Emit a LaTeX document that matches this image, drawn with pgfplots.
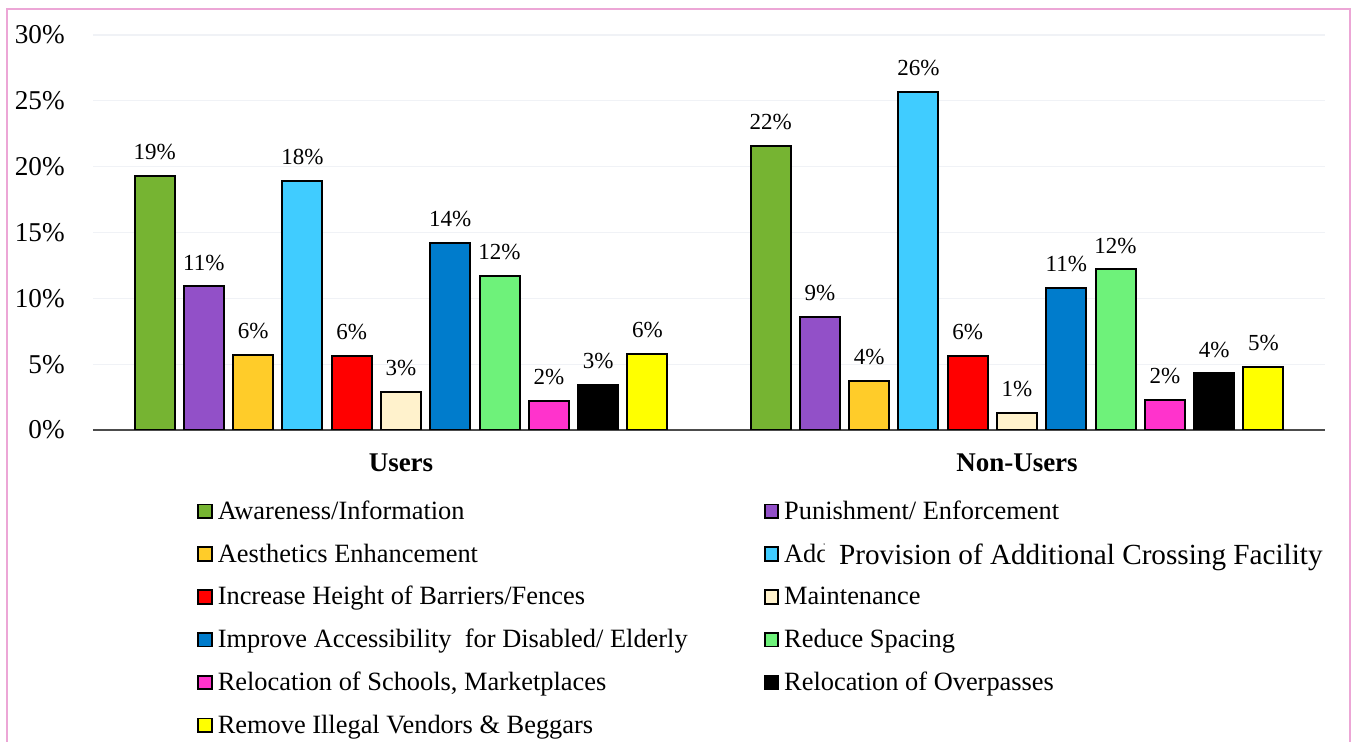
\documentclass[border=0pt]{standalone}
\usepackage{fontspec}
\setmainfont{Liberation Serif}
\usepackage{pgfplots}
\pgfplotsset{compat=1.18}
\definecolor{c1}{RGB}{118,180,50}
\definecolor{c2}{RGB}{146,80,200}
\definecolor{c3}{RGB}{255,204,41}
\definecolor{c4}{RGB}{64,204,255}
\definecolor{c5}{RGB}{255,0,0}
\definecolor{c6}{RGB}{255,242,204}
\definecolor{c7}{RGB}{0,124,204}
\definecolor{c8}{RGB}{110,242,122}
\definecolor{c9}{RGB}{255,51,204}
\definecolor{c10}{RGB}{0,0,0}
\definecolor{c11}{RGB}{255,255,0}
\definecolor{gridc}{RGB}{240,242,246}
\definecolor{framec}{RGB}{236,166,214}
\newcommand{\Lc}[1]{\makebox[270.5pt][l]{#1}}
\begin{document}
\begin{tikzpicture}
\path[use as bounding box] (-46.5pt,-156pt) rectangle (629.5pt,215pt);
\begin{axis}[
  at={(0pt,0pt)}, anchor=south west,
  scale only axis, width=616pt, height=197.5pt,
  xmin=-0.5, xmax=1.5, ymin=0, ymax=30,
  axis x line=bottom, axis y line=left,
  x axis line style={-, draw=black!70, line width=0.8pt},
  y axis line style={draw=none},
  xtick={0,1}, xticklabels={Users,Non-Users},
  xtick style={draw=none}, ytick style={draw=none},
  xticklabel style={font=\fontsize{13.5}{16}\selectfont\bfseries, yshift=-4pt},
  ytick={0,5,10,15,20,25,30},
  yticklabels={0\%,5\%,10\%,15\%,20\%,25\%,30\%},
  yticklabel style={font=\fontsize{13.6}{16}\selectfont, xshift=-8.5pt},
  ymajorgrids, grid style={draw=gridc, line width=0.6pt},
  /pgf/number format/assume math mode=true,
  ybar, bar width=0.065,
  point meta=explicit symbolic,
  nodes near coords={\pgfplotspointmeta\%},
  every node near coord/.append style={font=\fontsize{11.5}{13}\selectfont, anchor=south, inner sep=0pt, yshift=7.5pt, text=black},
  legend columns=2, legend cell align=left,
  legend image code/.code={\draw[#1, draw=black, line width=0.9pt] (0pt,-2.4pt) rectangle (6.8pt,4.4pt);},
  legend style={draw=none, fill=none, at={(0.0844,-0.1797)}, anchor=north west,
    inner sep=0pt, column sep=2.5pt, row sep=9.4pt,
    nodes={inner sep=0pt, text height=9pt, text depth=3pt, font=\fontsize{13.2}{15}\selectfont}},
  every axis plot/.append style={draw=black, line width=1pt},
]
\addplot[fill=c1, bar shift=-0.40] coordinates {(0,19.3) [19] (1,21.6) [22]};
\addplot[fill=c2, bar shift=-0.32] coordinates {(0,10.9) [11] (1,8.6) [9]};
\addplot[fill=c3, bar shift=-0.24] coordinates {(0,5.7) [6] (1,3.7) [4]};
\addplot[fill=c4, bar shift=-0.16] coordinates {(0,18.9) [18] (1,25.7) [26]};
\addplot[fill=c5, bar shift=-0.08] coordinates {(0,5.6) [6] (1,5.6) [6]};
\addplot[fill=c6, bar shift=0] coordinates {(0,2.9) [3] (1,1.3) [1]};
\addplot[fill=c7, bar shift=0.08] coordinates {(0,14.2) [14] (1,10.8) [11]};
\addplot[fill=c8, bar shift=0.16] coordinates {(0,11.7) [12] (1,12.2) [12]};
\addplot[fill=c9, bar shift=0.24] coordinates {(0,2.2) [2] (1,2.3) [2]};
\addplot[fill=c10, bar shift=0.32] coordinates {(0,3.4) [3] (1,4.3) [4]};
\addplot[fill=c11, bar shift=0.40] coordinates {(0,5.8) [6] (1,4.8) [5]};
\legend{\Lc{Awareness/Information}, Punishment/ Enforcement, \Lc{Aesthetics Enhancement},
  {\rlap{Additional Crossing Facility}\hspace*{20.5pt}{\fboxsep=0pt\colorbox{white}{\hspace*{7pt}\raisebox{-1pt}{\fontsize{14.6}{17}\selectfont Provision of Additional Crossing Facility\strut}\hspace*{2pt}}}},
  \Lc{Increase Height of Barriers/Fences}, Maintenance,
  \Lc{Improve Accessibility\ \ for Disabled/ Elderly}, Reduce Spacing,
  {\Lc{Relocation of Schools, Marketplaces}}, Relocation of Overpasses,
  \Lc{Remove Illegal Vendors \& Beggars}}
\end{axis}
\draw[framec, line width=0.8pt] (-43pt,-160pt) -- (-43pt,210.5pt) -- (628.5pt,210.5pt) -- (628.5pt,-160pt);
\end{tikzpicture}
\end{document}
